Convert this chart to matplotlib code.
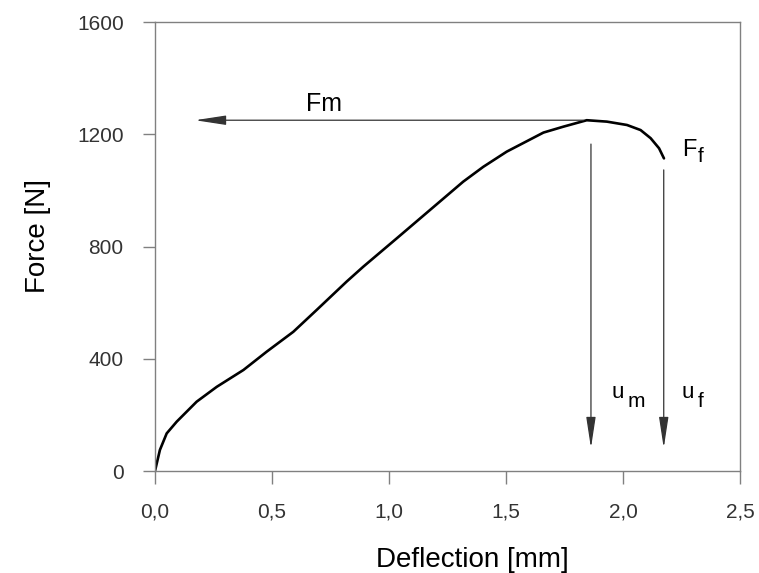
import matplotlib
matplotlib.use('Agg')
import matplotlib.pyplot as plt

plt.rcParams['font.family'] = ['Liberation Sans', 'DejaVu Sans']

# force-deflection curve
deflection = [0, 0.021, 0.05, 0.093, 0.178, 0.264, 0.378, 0.477, 0.591, 0.691,
              0.819, 0.890, 1.033, 1.175, 1.317, 1.403, 1.503, 1.660, 1.745,
              1.845, 1.931, 2.017, 2.075, 2.118, 2.154, 2.175]
force = [0, 75, 134, 176, 247, 300, 360, 425, 496, 574,
         675, 728, 829, 930, 1031, 1084, 1138, 1206, 1227,
         1250, 1245, 1233, 1215, 1186, 1150, 1114]

x_ticks = [0, 0.5, 1.0, 1.5, 2.0, 2.5]
x_labels = ['0,0', '0,5', '1,0', '1,5', '2,0', '2,5']
y_ticks = [0, 400, 800, 1200, 1600]

# markers: max force, deflection at max, deflection at failure
F_max = 1250
u_m = 1.863
u_f = 2.174

fig = plt.figure(figsize=(7.59, 5.73), dpi=100)
ax = fig.add_axes([0.2042, 0.178, 0.7708, 0.7836])

ax.plot(deflection, force, color='black', lw=1.9, solid_capstyle='round')

ax.set_xlim(0, 2.5)
ax.set_ylim(0, 1600)
ax.set_xticks(x_ticks)
ax.set_xticklabels(x_labels)
ax.set_yticks(y_ticks)

for s in ax.spines.values():
    s.set_color('#808080')
    s.set_linewidth(1.0)
ax.tick_params(direction='out', length=9, width=1.0, color='#808080',
               labelsize=15, labelcolor='#333333', pad=13.5)

ax.set_xlabel('Deflection [mm]', fontsize=20, va='baseline')
ax.set_ylabel('Force [N]', fontsize=20, va='baseline')
ax.xaxis.set_label_coords(0.542, -0.2138)
ax.yaxis.set_label_coords(-0.188, 0.523)

arrow = dict(arrowstyle='-|>,head_length=19,head_width=2.9', mutation_scale=1,
             color='#333333', lw=0.9, shrinkA=0, shrinkB=0)

ax.annotate('', xy=(0.171, F_max), xytext=(1.83, F_max), arrowprops=arrow)
ax.annotate('', xy=(u_m, 82), xytext=(u_m, 1165), arrowprops=arrow)
ax.annotate('', xy=(u_f, 82), xytext=(u_f, 1073), arrowprops=arrow)

ax.text(0.645, 1283, 'Fm', fontsize=18, ha='left', va='baseline')
ax.text(2.252, 1123, 'F', fontsize=17, ha='left', va='baseline')
ax.text(2.321, 1101, 'f', fontsize=15, ha='left', va='baseline')
ax.text(1.952, 260, 'u', fontsize=16, ha='left', va='baseline')
ax.text(2.021, 228, 'm', fontsize=15, ha='left', va='baseline')
ax.text(2.252, 260, 'u', fontsize=16, ha='left', va='baseline')
ax.text(2.321, 228, 'f', fontsize=15, ha='left', va='baseline')

plt.savefig('out.png', dpi=100)
